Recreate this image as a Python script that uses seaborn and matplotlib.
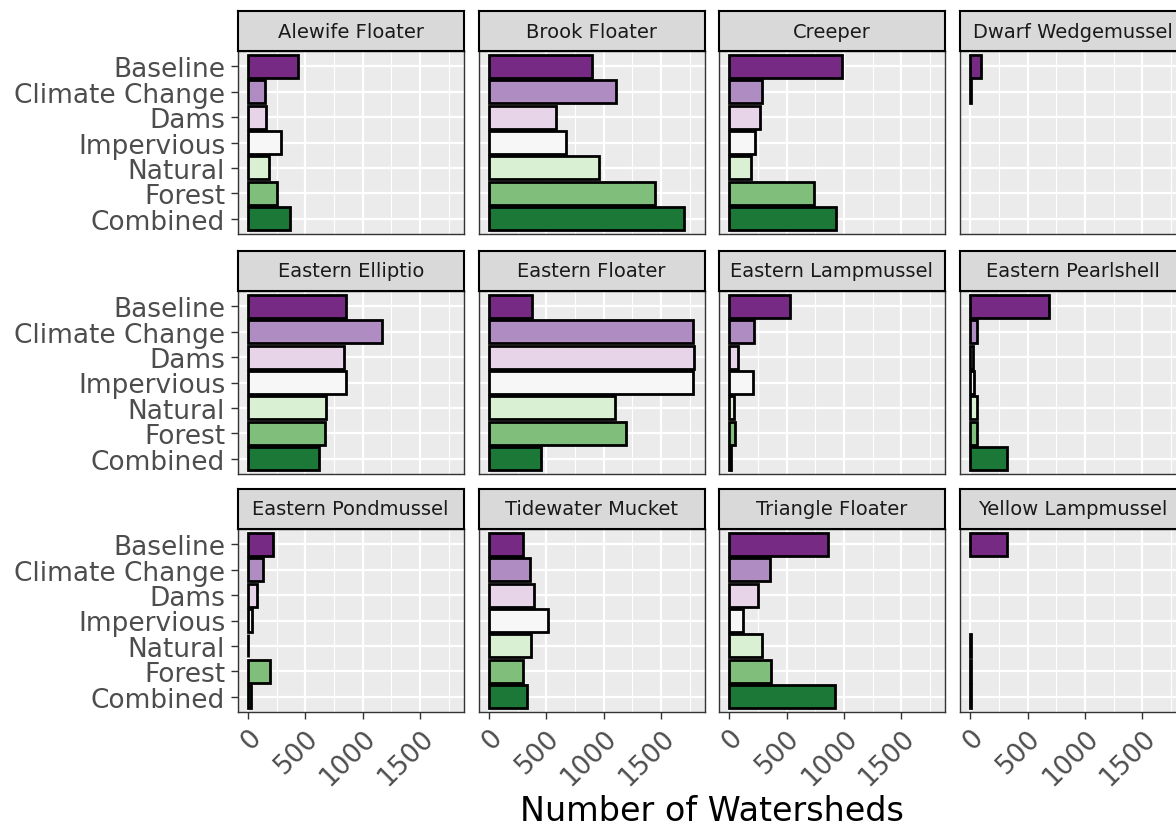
import numpy as np
import pandas as pd
import matplotlib
matplotlib.use("Agg")
import matplotlib.pyplot as plt
import seaborn as sns

# ---- data -----------------------------------------------------------------
scenarios = ["Baseline", "Climate Change", "Dams", "Impervious",
             "Natural", "Forest", "Combined"]

species = ["Alewife Floater", "Brook Floater", "Creeper", "Dwarf Wedgemussel",
           "Eastern Elliptio", "Eastern Floater", "Eastern Lampmussel",
           "Eastern Pearlshell", "Eastern Pondmussel", "Tidewater Mucket",
           "Triangle Floater", "Yellow Lampmussel"]

nan = np.nan
alewife_floater = [440, 150, 155, 290, 180, 250, 370]
brook_floater = [900, 1105, 580, 670, 955, 1450, 1695]
creeper = [980, 285, 265, 220, 188, 742, 930]
dwarf_wedgemussel = [90, 2, nan, nan, nan, nan, nan]
eastern_elliptio = [855, 1170, 835, 855, 680, 670, 620]
eastern_floater = [375, 1775, 1790, 1780, 1095, 1190, 450]
eastern_lampmussel = [525, 215, 75, 205, 40, 50, 15]
eastern_pearlshell = [690, 55, 25, 35, 55, 60, 318]
eastern_pondmussel = [215, 135, 80, 35, 2, 195, 30]
tidewater_mucket = [295, 360, 390, 510, 370, 298, 335]
triangle_floater = [860, 355, 250, 120, 288, 360, 920]
yellow_lampmussel = [320, nan, nan, nan, 2, 2, 2]

values = [alewife_floater, brook_floater, creeper, dwarf_wedgemussel,
          eastern_elliptio, eastern_floater, eastern_lampmussel,
          eastern_pearlshell, eastern_pondmussel, tidewater_mucket,
          triangle_floater, yellow_lampmussel]

scenario_colors = ["#762a83", "#af8dc3", "#e7d4e8", "#f7f7f7",
                   "#d9f0d3", "#7fbf7b", "#1b7837"]

x_ticks = [0, 500, 1000, 1500]
x_minor = [250, 750, 1250, 1750]
x_title = "Number of Watersheds"

df = pd.DataFrame({
    "species": np.repeat(species, len(scenarios)),
    "scenario": scenarios * len(species),
    "count": np.concatenate([np.asarray(v, dtype=float) for v in values]),
})

# ---- figure ---------------------------------------------------------------
W, H = 1176, 829
fig = plt.figure(figsize=(W / 100, H / 100), dpi=100)
plt.rcParams["font.family"] = ["DejaVu Sans"]

palette = dict(zip(scenarios, scenario_colors))
xmax = np.nanmax(df["count"].values)
xlim = (-0.05 * xmax, 1.05 * xmax)

col_left = [237.7, 478.7, 719.0, 960.0]
panel_w = 226.0
row_top = [52.0, 292.0, 530.0]
panel_h = 183.0
strip_h = 40.0

for i, sp in enumerate(species):
    r, c = divmod(i, 4)
    x0 = col_left[c]
    y_top = row_top[r]
    ax = fig.add_axes([x0 / W, (H - y_top - panel_h) / H, panel_w / W, panel_h / H])
    sub = df[(df["species"] == sp)].dropna(subset=["count"])
    sns.barplot(data=sub, x="count", y="scenario", hue="scenario",
                order=scenarios, hue_order=scenarios, palette=palette,
                saturation=1, orient="h", width=0.9, edgecolor="black",
                linewidth=2.0, legend=False, ax=ax, zorder=3)
    ax.set_facecolor("#EBEBEB")
    ax.set_xlim(*xlim)
    ax.set_ylim(len(scenarios) - 0.4, -0.6)
    ax.set_xlabel("")
    ax.set_ylabel("")
    ax.set_xticks(x_ticks)
    ax.set_xticks(x_minor, minor=True)
    ax.set_yticks(range(len(scenarios)))
    ax.grid(which="major", axis="both", color="white", linewidth=1.6, zorder=0)
    ax.grid(which="minor", axis="x", color="white", linewidth=0.8, zorder=0)
    ax.set_axisbelow(True)
    for s in ax.spines.values():
        s.set_color("#333333")
        s.set_linewidth(1.0)
    ax.tick_params(axis="both", which="major", length=5, width=1.0,
                   color="#333333", labelcolor="#4D4D4D", labelsize=19, pad=4)
    ax.tick_params(axis="both", which="minor", length=0)

    if c == 0:
        ax.set_yticklabels(scenarios)
    else:
        ax.tick_params(axis="y", left=False, labelleft=False)
    if r == 2:
        ax.set_xticklabels([str(t) for t in x_ticks], rotation=45,
                           ha="right", va="top", rotation_mode="anchor")
    else:
        ax.tick_params(axis="x", bottom=False, labelbottom=False)

    # facet strip
    sax = fig.add_axes([x0 / W, (H - y_top) / H, panel_w / W, strip_h / H])
    sax.set_facecolor("#D9D9D9")
    sax.set_xticks([])
    sax.set_yticks([])
    for s in sax.spines.values():
        s.set_color("black")
        s.set_linewidth(1.5)
    sax.text(0.5, 0.5, sp, ha="center", va="center", fontsize=14,
             color="#1A1A1A", transform=sax.transAxes)

fig.text(712 / W, 1 - 812 / H, x_title, ha="center", va="center",
         fontsize=24, color="black")

fig.savefig("out.png", dpi=100, facecolor="white")
